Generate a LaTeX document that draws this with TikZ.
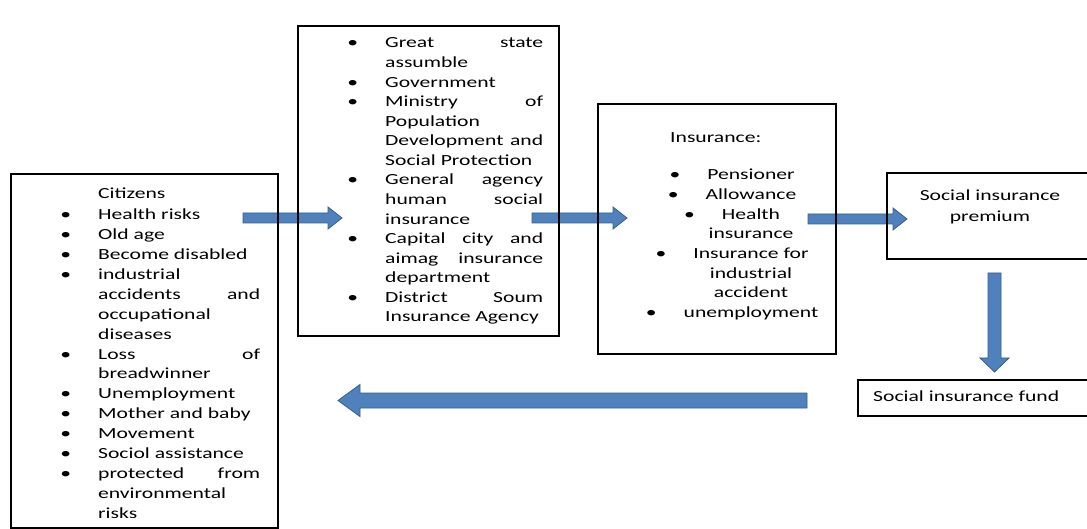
\documentclass[tikz,border=0pt]{standalone}
\usepackage{fontspec}
\setmainfont{Carlito}[FakeStretch=1.4]
\usetikzlibrary{calc}

\definecolor{arrowfill}{HTML}{4F81BD}
\definecolor{arrowline}{HTML}{385D8A}

\pgfdeclarelayer{background}
\pgfsetlayers{background,main}

\newcommand{\itm}{\llap{\textbullet\hspace{27bp}}}
\newcommand{\jus}[2]{\makebox[#1][s]{#2}}

\tikzset{
	box/.style={draw=black, line width=1.6bp, inner sep=0pt, anchor=north west},
	txt/.style={inner sep=0pt, text=black, font=\fontsize{15.5}{#1}\selectfont},
	txt/.default={19.8},
	blockarrow/.style n args={3}{draw=arrowline, fill=arrowfill, line width=0.8bp,
		to path={
			($(\tikztostart)!#1!90:(\tikztotarget)$)
			-- ($(\tikztotarget)!#3!(\tikztostart)!#1!90:(\tikztotarget)$)
			-- ($(\tikztotarget)!#3!(\tikztostart)!#2!90:(\tikztotarget)$)
			-- (\tikztotarget)
			-- ($(\tikztotarget)!#3!(\tikztostart)!#2!-90:(\tikztotarget)$)
			-- ($(\tikztotarget)!#3!(\tikztostart)!#1!-90:(\tikztotarget)$)
			-- ($(\tikztostart)!#1!-90:(\tikztotarget)$) -- cycle}},
	fwdarrow/.style={blockarrow={5bp}{11bp}{14bp}},
	downarrow/.style={blockarrow={6.5bp}{14.5bp}{14bp}},
	backarrow/.style={blockarrow={7.5bp}{16bp}{22bp}}
}

\begin{document}
\begin{tikzpicture}[x=1bp,y=-1bp]
	\useasboundingbox (0,0) rectangle (1087,529);

	% boxes
	\node[box, minimum width=267bp, minimum height=354bp] (citizens) at (10,173) {};
	\node[box, minimum width=261bp, minimum height=310bp] (organs) at (297,25) {};
	\node[box, minimum width=238bp, minimum height=250bp] (insurance) at (597,103) {};
	\node[box, minimum width=220bp, minimum height=86bp] (premium) at (886,172) {};
	\node[box, minimum width=250bp, minimum height=36bp] (fund) at (857,379) {};

	% texts
	\node[txt={19.95}, anchor=north west, align=left] (citizenslist) at (98,184) {%
		\strut Citizens\\[2bp]
		\itm Health risks\\
		\itm Old age\\
		\itm Become disabled\\
		\itm industrial\\
		\jus{162bp}{accidents and}\\
		occupational\\
		diseases\\
		\itm \jus{162bp}{Loss of}\\
		breadwinner\\
		\itm Unemployment\\
		\itm Mother and baby\\
		\itm Movement\\
		\itm Sociol assistance\\
		\itm \jus{162bp}{protected from}\\
		environmental\\
		risks};
	\node[txt={19.65}, anchor=north west, align=left] (organslist) at (385,34) {%
		\strut\itm \jus{158bp}{Great state}\\
		assumble\\
		\itm Government\\
		\itm \jus{158bp}{Ministry of}\\
		Population\\
		\jus{158bp}{Development and}\\
		Social Protection\\
		\itm \jus{158bp}{General agency}\\
		\jus{158bp}{human social}\\
		insurance\\
		\itm \jus{158bp}{Capital city and}\\
		\jus{158bp}{aimag insurance}\\
		department\\
		\itm \jus{158bp}{District Soum}\\
		Insurance Agency};
	\node[txt, anchor=base west] (insurancetitle) at (670,143) {Insurance:};
	\node[txt={19.7}, anchor=north, align=center] (insurancelist) at (751,166) {%
		\strut\itm Pensioner\\
		\itm Allowance\\
		\itm Health\\
		insurance\\
		\itm Insurance for\\
		industrial\\
		accident\\
		\itm unemployment};
	\node[txt={21}, align=center] (premiumtext) at (990,207) {Social insurance\\premium};
	\node[txt, anchor=base west] (fundtext) at (873,401) {Social insurance fund};

	% arrows
	\coordinate (a1s) at (243,218);
	\coordinate (a1e) at (342,218);
	\coordinate (a2s) at (532,218);
	\coordinate (a2e) at (627,218);
	\coordinate (a3s) at (808,219);
	\coordinate (a3e) at (907,219);
	\coordinate (a4s) at (994.5,273);
	\coordinate (a4e) at (994.5,372);
	\coordinate (a5s) at (807,400.5);
	\coordinate (a5e) at (338,400.5);
	\begin{pgfonlayer}{background}
		\draw[fwdarrow] (a1s) to (a1e);
		\draw[fwdarrow] (a2s) to (a2e);
		\draw[fwdarrow] (a3s) to (a3e);
		\draw[downarrow] (a4s) to (a4e);
		\draw[backarrow] (a5s) to (a5e);
	\end{pgfonlayer}
\end{tikzpicture}
\end{document}
